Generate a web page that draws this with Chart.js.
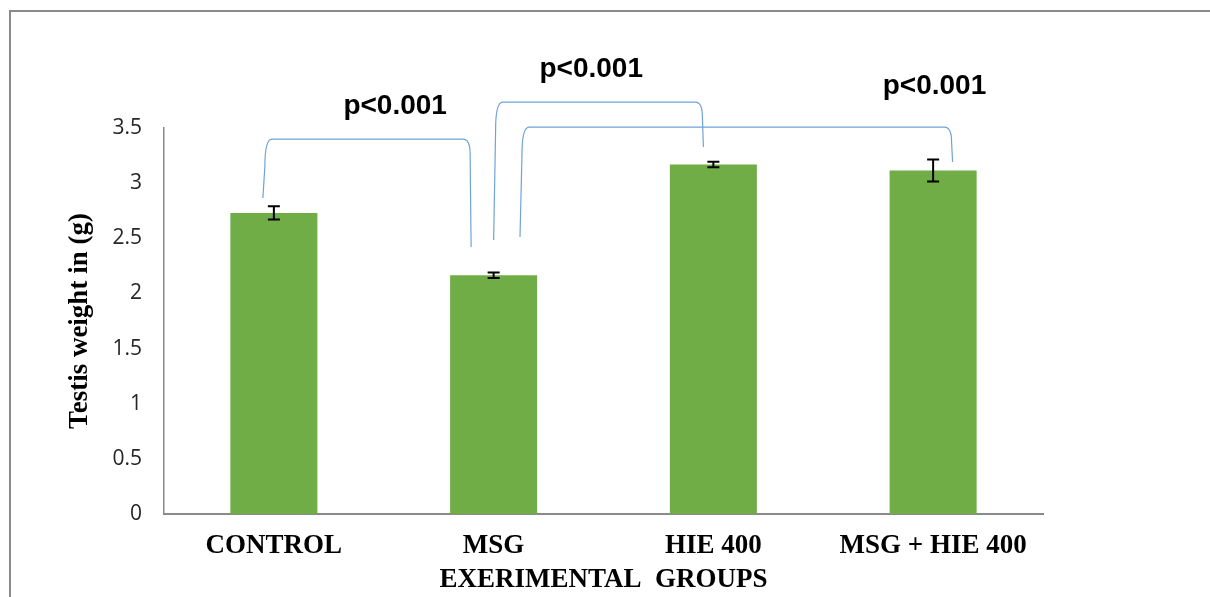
<!DOCTYPE html>
<html><head><meta charset="utf-8">
<script src="https://cdn.jsdelivr.net/npm/chart.js@4.4.1/dist/chart.umd.min.js"></script>
<style>html,body{margin:0;padding:0;background:#fff}#wrap{width:1210px;height:597px;position:relative}</style>
</head><body><div id="wrap"><canvas id="c" width="1210" height="597"></canvas></div>
<script>
const categories = ["CONTROL", "MSG", "HIE 400", "MSG + HIE 400"];
const weights = [2.73, 2.165, 3.17, 3.115];
const errors = [0.06, 0.025, 0.025, 0.1];
const yTicks = {min: 0, max: 3.5, step: 0.5};
// significance brackets: [leftIndex, leftBottomValue, rightIndex, rightBottomValue, topValue]
const bracketLeft = [-0.05, 1.0, 1.12];
const bracketLeftBottom = [2.865, 2.484, 2.511];
const bracketRight = [0.893, 1.95, 3.084];
const bracketRightBottom = [2.42, 3.327, 3.191];
const bracketTop = [3.40, 3.735, 3.508];
const pLabels = ["p<0.001", "p<0.001", "p<0.001"];
const pLabelX = [0.552, 1.444, 3.006];
const pLabelY = [3.70, 4.03, 3.88];

const overlay = {
  id: 'overlay',
  beforeDraw(chart) {
    const ctx = chart.ctx;
    ctx.save();
    ctx.strokeStyle = '#8a8a8a';
    ctx.lineWidth = 2;
    ctx.beginPath();
    ctx.moveTo(10, 597); ctx.lineTo(10, 11); ctx.lineTo(1210, 11);
    ctx.stroke();
    ctx.restore();
  },
  afterDatasetsDraw(chart) {
    const ctx = chart.ctx, xs = chart.scales.x, ys = chart.scales.y;
    const cw = xs.getPixelForValue(1) - xs.getPixelForValue(0);
    const px = v => xs.getPixelForValue(0) + v * cw;
    ctx.save();
    // error bars
    ctx.strokeStyle = '#000'; ctx.lineWidth = 2;
    weights.forEach((w, i) => {
      const x = xs.getPixelForValue(i);
      const y1 = ys.getPixelForValue(w + errors[i]), y2 = ys.getPixelForValue(w - errors[i]);
      ctx.beginPath();
      ctx.moveTo(x, y1); ctx.lineTo(x, y2);
      ctx.moveTo(x - 6, y1); ctx.lineTo(x + 6, y1);
      ctx.moveTo(x - 6, y2); ctx.lineTo(x + 6, y2);
      ctx.stroke();
    });
    // brackets
    ctx.strokeStyle = '#6fa3d8'; ctx.lineWidth = 1.2;
    const r = 7;
    bracketLeft.forEach((l, i) => {
      const xl = px(l), xr = px(bracketRight[i]);
      const yt = ys.getPixelForValue(bracketTop[i]);
      const yl = ys.getPixelForValue(bracketLeftBottom[i]);
      const yr = ys.getPixelForValue(bracketRightBottom[i]);
      ctx.beginPath();
      ctx.moveTo(xl, yl);
      ctx.lineTo(xl + 2, yt + r + 20);
      ctx.quadraticCurveTo(xl + 2, yt, xl + 2 + r, yt);
      ctx.lineTo(xr - r, yt);
      ctx.quadraticCurveTo(xr, yt, xr, yt + r + 8);
      ctx.lineTo(xr + 1, yr);
      ctx.stroke();
    });
    // p labels
    ctx.fillStyle = '#000';
    ctx.font = 'bold 28px "Liberation Sans", Arial, sans-serif';
    ctx.textAlign = 'center'; ctx.textBaseline = 'middle';
    pLabels.forEach((t, i) => ctx.fillText(t, px(pLabelX[i]), ys.getPixelForValue(pLabelY[i])));
    ctx.restore();
  }
};

new Chart(document.getElementById('c'), {
  type: 'bar',
  data: {
    labels: categories,
    datasets: [{data: weights, backgroundColor: '#70ad47', barPercentage: 0.396, categoryPercentage: 1}]
  },
  options: {
    responsive: false, animation: false,
    layout: {padding: {top: 128, right: 167, bottom: 0, left: 0}},
    plugins: {legend: {display: false}, tooltip: {enabled: false}},
    scales: {
      x: {
        grid: {display: false, drawTicks: false},
        border: {color: '#8a8a8a', width: 2},
        ticks: {color: '#000', padding: 16, font: {family: '"Liberation Serif", "Times New Roman", serif', weight: 'bold', size: 27}},
        title: {display: true, text: 'EXERIMENTAL  GROUPS', color: '#000', padding: {top: 0, bottom: 1}, font: {family: '"Liberation Serif", "Times New Roman", serif', weight: 'bold', size: 27}},
        afterFit(s) { s.height = 83; }
      },
      y: {
        min: yTicks.min, max: yTicks.max,
        grid: {display: false, drawTicks: false},
        border: {color: '#8a8a8a', width: 1.5},
        ticks: {stepSize: yTicks.step, color: '#262626', padding: 22, font: {family: '"Open Sans", sans-serif', size: 21},
          callback: v => String(Math.round(v * 10) / 10)},
        title: {display: true, text: 'Testis weight in (g)', color: '#000', padding: {top: 64, bottom: 0}, font: {family: '"Liberation Serif", "Times New Roman", serif', weight: 'bold', size: 27}},
        afterFit(s) { s.width = 164; }
      }
    }
  },
  plugins: [overlay]
});
</script></body></html>
